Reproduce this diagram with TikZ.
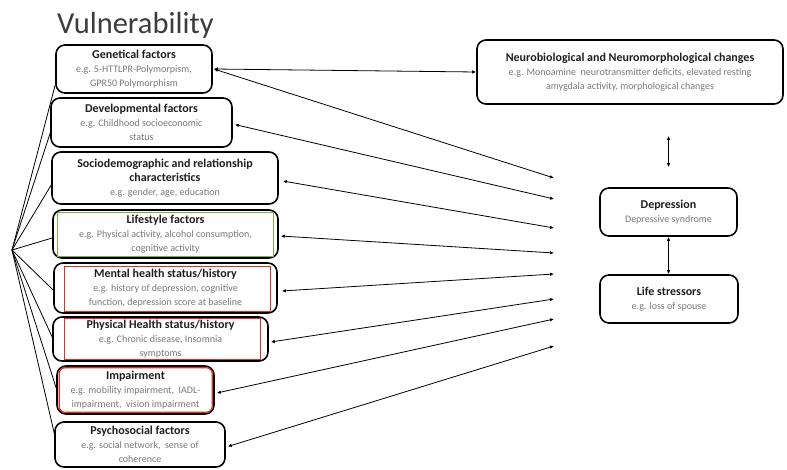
\documentclass[tikz,border=0pt]{standalone}
\usepackage{fontspec}
\setmainfont{Carlito}
\usetikzlibrary{arrows.meta}
\definecolor{subgrey}{RGB}{120,120,120}
\definecolor{hdark}{RGB}{30,30,30}
\definecolor{titlegrey}{RGB}{60,60,60}
\definecolor{lgreen}{RGB}{120,175,70}
\definecolor{lred}{RGB}{225,45,35}
\newcommand{\hd}[1]{{\bfseries\color{hdark}#1}}
\newcommand{\subt}[1]{{\fontsize{10}{14}\selectfont\color{subgrey}#1}}
\tikzset{
  box/.style={draw=black, line width=1.6pt, rounded corners=9pt, align=center,
    inner sep=0pt, font=\fontsize{12}{14}\selectfont},
  link/.style={line width=0.8pt, {Latex[length=4pt,width=3.5pt]}-{Latex[length=4pt,width=3.5pt]}},
  fan/.style={line width=0.8pt},
  inset/.style={line width=1.2pt},
}
\begin{document}
\begin{tikzpicture}[x=1pt,y=-1pt]
\useasboundingbox (0,0) rectangle (787,469);
\node[font=\fontsize{30.5}{32}\selectfont, text=titlegrey, anchor=base west, inner sep=0pt] (title) at (57,33) {Vulnerability};

\node[box, minimum width=156pt, minimum height=48pt] (gen) at (134,69)
  {\hd{Genetical factors}\\\subt{e.g. 5-HTTLPR-Polymorpism,}\\\subt{GPR50 Polymorphism}};
\node[box, minimum width=181pt, minimum height=49pt] (dev) at (141.5,122.5)
  {\hd{Developmental factors}\\\subt{e.g. Childhood socioeconomic}\\\subt{status}};
\node[box, minimum width=226pt, minimum height=52pt] (soc) at (165,178)
  {\hd{Sociodemographic and relationship}\\\hd{characteristics}\\\subt{e.g. gender, age, education}};
\node[box, minimum width=225pt, minimum height=48pt] (lif) at (165.5,234)
  {\hd{Lifestyle factors}\\\subt{e.g. Physical activity, alcohol consumption,}\\\subt{cognitive activity}};
\node[box, minimum width=223pt, minimum height=50pt] (men) at (165.5,288)
  {\hd{Mental health status/history}\\\subt{e.g. history of depression, cognitive}\\\subt{function, depression score at baseline}};
\node[box, minimum width=215pt, minimum height=44pt] (phy) at (160.5,339)
  {\hd{Physical Health status/history}\\\subt{e.g. Chronic disease, Insomnia}\\\subt{symptoms}};
\node[box, minimum width=157pt, minimum height=48pt] (imp) at (135.5,390)
  {\hd{Impairment}\\\subt{e.g. mobility impairment,\ \ IADL-}\\\subt{impairment,\ \ vision impairment}};
\node[box, minimum width=170pt, minimum height=45pt] (psy) at (140,444.5)
  {\hd{Psychosocial factors}\\\subt{e.g. social network,\ \ sense of}\\\subt{coherence}};

\node[box, minimum width=306pt, minimum height=64pt] (neu) at (630,72)
  {\hd{Neurobiological and Neuromorphological changes}\\\subt{e.g. Monoamine\ \ neurotransmitter deficits, elevated resting}\\\subt{amygdala activity, morphological changes}};
\node[box, minimum width=137pt, minimum height=48pt] (dep) at (668.5,212)
  {\hd{Depression}\\\subt{Depressive syndrome}};
\node[box, minimum width=138pt, minimum height=48pt] (lst) at (669,299)
  {\hd{Life stressors}\\\subt{e.g. loss of spouse}};

% coloured inner frames
\draw[inset, draw=lgreen] ([xshift=5pt,yshift=2.5pt]lif.south west) rectangle ([xshift=-5pt,yshift=-3pt]lif.north east);
\draw[inset, draw=lred] ([xshift=11pt,yshift=2.5pt]men.south west) rectangle ([xshift=-7pt,yshift=-4pt]men.north east);
\draw[inset, draw=lred] ([xshift=12pt,yshift=2pt]phy.south west) rectangle ([xshift=-8pt,yshift=-2pt]phy.north east);
\draw[inset, draw=lred, rounded corners=6pt] ([xshift=3pt,yshift=2.5pt]imp.south west) rectangle ([xshift=-2.5pt,yshift=-2.5pt]imp.north east);

% fan on the left
\coordinate (hub) at (12,250);
\draw[fan] (hub) -- ([yshift=-16pt]gen.west);
\draw[fan] (hub) -- ([yshift=-10.5pt]dev.west);
\draw[fan] (hub) -- ([yshift=-7pt]soc.west);
\draw[fan] (hub) -- ([yshift=-4pt]lif.west);
\draw[fan] (hub) -- ([yshift=-2pt]men.west);
\draw[fan] (hub) -- ([yshift=2pt]phy.west);
\draw[fan] (hub) -- ([yshift=2pt]imp.west);
\draw[fan] (hub) -- ([yshift=11.5pt]psy.west);

% free ends towards depression
\coordinate (e1) at (554,178);
\coordinate (e2) at (554,199);
\coordinate (e3) at (554,228);
\coordinate (e4) at (554,253);
\coordinate (e5) at (554,274);
\coordinate (e6) at (554,299);
\coordinate (e7) at (554,319);
\coordinate (e8) at (554,346);

\draw[link] ([xshift=1pt]gen.east) -- (e1);
\draw[link] ([xshift=1pt]gen.east) -- (neu.west);
\draw[link] ([xshift=2pt,yshift=-2pt]dev.east) -- (e2);
\draw[link] ([xshift=4pt,yshift=-3pt]soc.east) -- (e3);
\draw[link] ([xshift=2pt,yshift=-2pt]lif.east) -- (e4);
\draw[link] ([xshift=4pt,yshift=-3pt]men.east) -- (e5);
\draw[link] ([xshift=2pt,yshift=-3pt]phy.east) -- (e6);
\draw[link] ([xshift=2pt,yshift=-3pt]imp.east) -- (e7);
\draw[link] ([xshift=2pt,yshift=-2pt]psy.east) -- (e8);

\draw[link, shorten <=31pt, shorten >=20pt] (neu.south -| dep.north) -- (dep.north);
\draw[link] (dep.south) -- (dep.south |- lst.north);
\end{tikzpicture}
\end{document}
